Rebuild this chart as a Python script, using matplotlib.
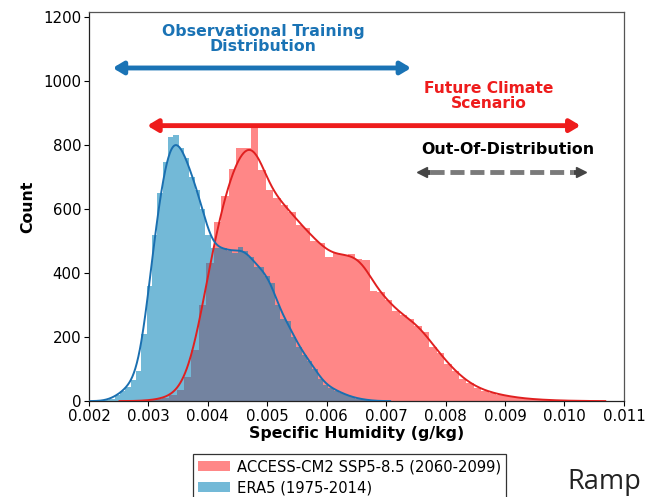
import numpy as np
import matplotlib
matplotlib.use("Agg")
import matplotlib.pyplot as plt
from matplotlib.patches import Patch

# ---------------- data ----------------
x_ticks = [0.002, 0.003, 0.004, 0.005, 0.006, 0.007, 0.008, 0.009, 0.010, 0.011]
y_ticks = [0, 200, 400, 600, 800, 1000, 1200]

era5_label = "ERA5 (1975-2014)"
era5_bin_start = 0.00225
era5_bin_width = 0.00009
era5_counts = [3, 8, 18, 30, 45, 65, 95, 210, 360, 520,
               650, 745, 825, 832, 790, 760, 700, 660, 600, 520,
               478, 478, 478, 470, 462, 481, 470, 450, 420, 418,
               390, 370, 300, 255, 250, 200, 170, 145, 125, 100,
               70, 50, 42, 33, 25, 18, 12, 8, 5, 3, 1]

access_label = "ACCESS-CM2 SSP5-8.5 (2060-2099)"
access_bin_start = 0.00285
access_bin_width = 0.000125
access_counts = [1, 3, 5, 10, 18, 35, 75, 160, 300, 430,
                 560, 640, 725, 790, 790, 855, 720, 660, 635, 612,
                 590, 550, 540, 500, 495, 450, 462, 455, 460, 445,
                 440, 345, 340, 315, 280, 270, 255, 235, 215, 170,
                 150, 115, 95, 70, 55, 42, 32, 26, 20, 16,
                 12, 9, 7, 5, 4, 3, 2, 1, 1, 1]

obs_text = "Observational Training\nDistribution"
obs_span = (0.0024, 0.00742)
obs_level = 1040
obs_text_pos = (0.00493, 1131)

fut_text = "Future Climate\nScenario"
fut_span = (0.00298, 0.01027)
fut_level = 860
fut_text_pos = (0.00872, 953)

ood_text = "Out-Of-Distribution"
ood_span = (0.00761, 0.01027)
ood_level = 716
ood_text_pos = (0.00905, 784)

# ---------------- styling ----------------
red_c = "#ff0000"
blue_c = "#0080b6"
red_alpha = 0.47
blue_alpha = 0.55
red_line = "#e02020"
blue_line = "#1a6fb0"

plt.rcParams["font.family"] = ["DejaVu Sans"]

fig = plt.figure(figsize=(6.54, 4.97), dpi=100)
ax = fig.add_axes([0.136, 0.193, 0.818, 0.783])


def hist_and_kde(counts, start, width, color, alpha, line_color):
    counts = np.asarray(counts, dtype=float)
    edges = start + width * np.arange(len(counts) + 1)
    centers = 0.5 * (edges[:-1] + edges[1:])
    ax.hist(centers, bins=edges, weights=counts, color=color, alpha=alpha,
            linewidth=0, zorder=1)
    n = counts.sum()
    w = counts / n
    mean = np.sum(w * centers)
    std = np.sqrt(np.sum(w * (centers - mean) ** 2))
    bw = std * n ** (-1 / 5)
    grid = np.linspace(edges[0] - 2 * bw, edges[-1] + 2 * bw, 600)
    dens = np.sum(w[None, :] * np.exp(-0.5 * ((grid[:, None] - centers[None, :]) / bw) ** 2)
                  / (bw * np.sqrt(2 * np.pi)), axis=1)
    ax.plot(grid, dens * n * width, color=line_color, lw=1.4, zorder=3)


hist_and_kde(access_counts, access_bin_start, access_bin_width, red_c, red_alpha, red_line)
hist_and_kde(era5_counts, era5_bin_start, era5_bin_width, blue_c, blue_alpha, blue_line)

# arrows
def span_arrow(span, level, color):
    ax.annotate("", xy=(span[1], level), xytext=(span[0], level),
                arrowprops=dict(arrowstyle="<|-|>,head_length=0.5,head_width=0.3",
                                lw=3.5, color=color, shrinkA=0, shrinkB=0,
                                mutation_scale=12), zorder=4)

span_arrow(obs_span, obs_level, "#1a73b5")
span_arrow(fut_span, fut_level, "#ee1c1c")

ax.plot([ood_span[0] + 0.00012, ood_span[1] - 0.00012], [ood_level, ood_level],
        color="#7a7a7a", lw=3.5, dashes=(2.9, 1.2), solid_capstyle="butt", zorder=4)
ax.plot([ood_span[0]], [ood_level], marker="<", color="#444444", markersize=7, zorder=5)
ax.plot([ood_span[1]], [ood_level], marker=">", color="#444444", markersize=7, zorder=5)
ax.plot([ood_span[0] + 0.00003, ood_span[0] + 0.00012], [ood_level, ood_level],
        color="#444444", lw=3.5, solid_capstyle="butt", zorder=5)
ax.plot([ood_span[1] - 0.00012, ood_span[1] - 0.00003], [ood_level, ood_level],
        color="#444444", lw=3.5, solid_capstyle="butt", zorder=5)

ax.text(*obs_text_pos, obs_text, color="#1a73b5", fontsize=11.3, fontweight="bold",
        ha="center", va="center", linespacing=1.0)
ax.text(*fut_text_pos, fut_text, color="#ee1c1c", fontsize=11.2, fontweight="bold",
        ha="center", va="center", linespacing=1.0)
ax.text(*ood_text_pos, ood_text, color="black", fontsize=11.4, fontweight="bold",
        ha="center", va="center")

ax.set_xlim(0.002, 0.011)
ax.set_ylim(0, 1215)
ax.set_xticks(x_ticks)
ax.set_xticklabels([f"{t:.3f}" for t in x_ticks], fontsize=10.8)
ax.set_yticks(y_ticks)
ax.set_yticklabels([str(t) for t in y_ticks], fontsize=10.8)
ax.tick_params(length=3.5, pad=2)
ax.set_xlabel("Specific Humidity (g/kg)", fontsize=11.3, fontweight="bold", labelpad=2)
ax.set_ylabel("Count", fontsize=11.3, fontweight="bold", labelpad=6)
for s in ax.spines.values():
    s.set_color("#555555")
    s.set_linewidth(0.9)
ax.spines["bottom"].set_color("#222222")
ax.spines["left"].set_color("#222222")

handles = [Patch(facecolor=red_c, alpha=red_alpha, edgecolor="none"),
           Patch(facecolor=blue_c, alpha=blue_alpha, edgecolor="none")]
leg = fig.legend(handles, [access_label, era5_label], loc="upper left",
                 bbox_to_anchor=(0.295, 0.0865), bbox_transform=fig.transFigure,
                 fontsize=10.6, fancybox=False, edgecolor="#333333", framealpha=1,
                 handlelength=2.2, handletextpad=0.45, borderpad=0.35,
                 labelspacing=0.42, borderaxespad=0)
leg.get_frame().set_linewidth(0.9)

fig.text(567 / 654, 1 - 489 / 497, "Ramp", fontsize=19.5, color="#222222",
         family=["Open Sans", "DejaVu Sans"], ha="left", va="baseline")

fig.savefig("out.png", dpi=100)
